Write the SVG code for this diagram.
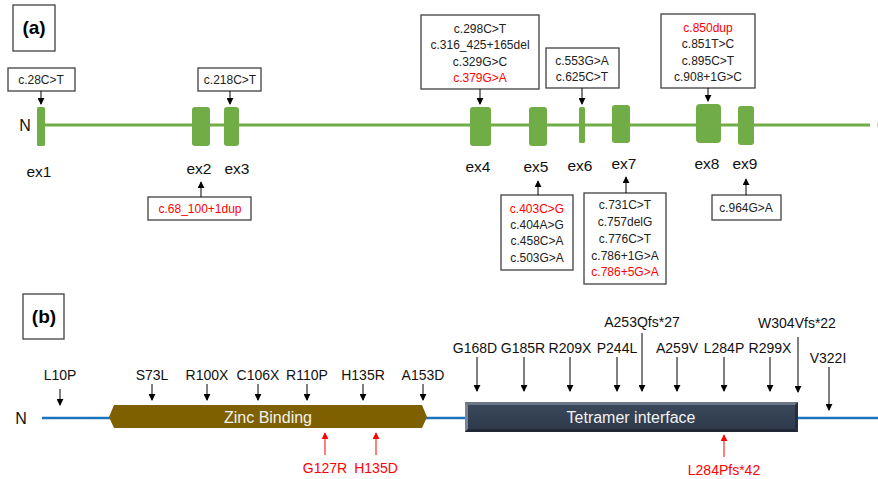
<svg xmlns="http://www.w3.org/2000/svg" width="878" height="479" viewBox="0 0 878 479">
<defs>
<marker id="ah" viewBox="0 0 8 8" refX="7" refY="4" markerWidth="7" markerHeight="7" markerUnits="userSpaceOnUse" orient="auto">
<path d="M0,0 L8,4 L0,8 Z" fill="#000"/>
</marker>
<marker id="ahr" viewBox="0 0 8 8" refX="7" refY="4" markerWidth="7" markerHeight="7" markerUnits="userSpaceOnUse" orient="auto">
<path d="M0,0 L8,4 L0,8 Z" fill="#FF0000"/>
</marker>
<linearGradient id="tg" x1="0" y1="0" x2="0" y2="1">
<stop offset="0" stop-color="#3a475a"/>
<stop offset="1" stop-color="#2e3a4c"/>
</linearGradient>
</defs>
<style>
text{font-family:"Liberation Sans",Arial,sans-serif;}
.box{fill:#fff;stroke:#404040;stroke-width:1.3;}
.bt{font-size:12px;fill:#222;text-anchor:middle;}
.red{fill:#FF0000;}
.ex{fill:#70AD47;}
.exl{font-size:15.5px;fill:#111;text-anchor:middle;}
.arr{stroke:#000;stroke-width:1;fill:none;marker-end:url(#ah);}
.arrr{stroke:#FF0000;stroke-width:1;fill:none;marker-end:url(#ahr);}
.pl{font-size:14px;fill:#111;text-anchor:middle;}
.plr{font-size:14px;fill:#FF0000;text-anchor:middle;}
.ttl{font-size:19px;font-weight:bold;fill:#000;text-anchor:middle;}
</style>

<!-- Panel (a) -->
<g id="label-a">
<rect x="13" y="5" width="42" height="46" fill="#fff" stroke="#404040" stroke-width="1.3"/>
<text class="ttl" x="34" y="34">(a)</text>
</g>

<g id="gene-line">
<line x1="41" y1="125" x2="870" y2="125" stroke="#70AD47" stroke-width="3"/>
<text x="25" y="131" font-size="16" fill="#111" text-anchor="middle">N</text>
<text x="877" y="131" font-size="16" fill="#111">C</text>
</g>

<g id="ex1"><rect class="ex" x="37" y="107" width="8" height="39" rx="1.5"/><text class="exl" x="39" y="177">ex1</text></g>
<g id="ex2"><rect class="ex" x="192" y="107" width="18" height="39" rx="3"/><text class="exl" x="199" y="174">ex2</text></g>
<g id="ex3"><rect class="ex" x="224" y="107" width="15" height="39" rx="3"/><text class="exl" x="237" y="174">ex3</text></g>
<g id="ex4"><rect class="ex" x="470" y="107" width="21" height="39" rx="3"/><text class="exl" x="478" y="172">ex4</text></g>
<g id="ex5"><rect class="ex" x="529" y="107" width="18" height="39" rx="3"/><text class="exl" x="536" y="172">ex5</text></g>
<g id="ex6"><rect class="ex" x="579" y="107" width="6" height="36" rx="1.5"/><text class="exl" x="580" y="171">ex6</text></g>
<g id="ex7"><rect class="ex" x="612" y="105" width="18" height="38" rx="3"/><text class="exl" x="624" y="169">ex7</text></g>
<g id="ex8"><rect class="ex" x="696" y="104" width="25" height="39" rx="4"/><text class="exl" x="707" y="169">ex8</text></g>
<g id="ex9"><rect class="ex" x="738" y="106" width="16" height="39" rx="3"/><text class="exl" x="745" y="169">ex9</text></g>

<g id="box-ex1"><rect class="box" x="8" y="68" width="67" height="23"/><text class="bt" x="41" y="84">c.28C&gt;T</text></g>
<g id="box-ex3"><rect class="box" x="198" y="68" width="63" height="23"/><text class="bt" x="230" y="84">c.218C&gt;T</text></g>
<g id="box-ex2"><rect class="box" x="148" y="197" width="103" height="23"/><text class="bt red" x="200" y="213">c.68_100+1dup</text></g>
<g id="box-ex4"><rect class="box" x="421" y="15" width="118" height="74"/>
<text class="bt" x="480" y="33">c.298C&gt;T</text>
<text class="bt" x="480" y="49">c.316_425+165del</text>
<text class="bt" x="480" y="66">c.329G&gt;C</text>
<text class="bt red" x="480" y="82">c.379G&gt;A</text></g>
<g id="box-ex6"><rect class="box" x="546" y="48" width="73" height="40"/>
<text class="bt" x="582" y="65">c.553G&gt;A</text>
<text class="bt" x="582" y="81">c.625C&gt;T</text></g>
<g id="box-ex8"><rect class="box" x="661" y="14" width="94" height="74"/>
<text class="bt red" x="708" y="32">c.850dup</text>
<text class="bt" x="708" y="48">c.851T&gt;C</text>
<text class="bt" x="708" y="65">c.895C&gt;T</text>
<text class="bt" x="708" y="81">c.908+1G&gt;C</text></g>
<g id="box-ex5"><rect class="box" x="501" y="195" width="72" height="75"/>
<text class="bt red" x="537" y="213">c.403C&gt;G</text>
<text class="bt" x="537" y="229">c.404A&gt;G</text>
<text class="bt" x="537" y="245">c.458C&gt;A</text>
<text class="bt" x="537" y="262">c.503G&gt;A</text></g>
<g id="box-ex7"><rect class="box" x="584" y="193" width="82" height="91"/>
<text class="bt" x="625" y="209">c.731C&gt;T</text>
<text class="bt" x="625" y="226">c.757delG</text>
<text class="bt" x="625" y="243">c.776C&gt;T</text>
<text class="bt" x="625" y="260">c.786+1G&gt;A</text>
<text class="bt red" x="625" y="276">c.786+5G&gt;A</text></g>
<g id="box-ex9"><rect class="box" x="712" y="195" width="69" height="25"/><text class="bt" x="746" y="212">c.964G&gt;A</text></g>

<g id="connectors-a">
<line class="arr" x1="41" y1="91" x2="41" y2="104"/>
<line class="arr" x1="230" y1="91" x2="230" y2="104"/>
<line class="arr" x1="201" y1="197" x2="201" y2="182"/>
<line class="arr" x1="480" y1="89" x2="480" y2="104"/>
<line class="arr" x1="582" y1="88" x2="582" y2="104"/>
<line class="arr" x1="708" y1="88" x2="708" y2="101"/>
<line class="arr" x1="538" y1="195" x2="538" y2="181"/>
<line class="arr" x1="626" y1="193" x2="626" y2="177"/>
<line class="arr" x1="746" y1="195" x2="746" y2="179"/>
</g>

<!-- Panel (b) -->
<g id="label-b">
<rect x="23" y="294" width="41" height="45" fill="#fff" stroke="#404040" stroke-width="1.3"/>
<text class="ttl" x="44" y="323">(b)</text>
</g>

<g id="protein-line">
<line x1="42" y1="418" x2="878" y2="418" stroke="#1E73BE" stroke-width="2.5"/>
<text x="21" y="424" font-size="16" fill="#111" text-anchor="middle">N</text>
</g>

<g id="zinc-binding">
<polygon points="109,417 114,405 422,405 427,417 422,428 114,428" fill="#7F6000"/>
<text x="268" y="423" font-size="16" fill="#F2F2F2" text-anchor="middle">Zinc Binding</text>
</g>

<g id="tetramer-interface">
<rect x="465" y="402" width="333" height="30" fill="#4a5568"/>
<polygon points="465,402 798,402 795,405 468,405" fill="#6b7585"/>
<polygon points="465,402 468,405 468,429 465,432" fill="#7a8494"/>
<polygon points="798,402 798,432 795,429 795,405" fill="#252e3b"/>
<polygon points="465,432 798,432 795,429 468,429" fill="#202836"/>
<rect x="468" y="405" width="327" height="24" fill="url(#tg)"/>
<text x="631" y="423" font-size="16" fill="#F2F2F2" text-anchor="middle">Tetramer interface</text>
</g>

<g id="mutation-labels">
<text class="pl" x="60" y="380">L10P</text>
<text class="pl" x="152" y="380">S73L</text>
<text class="pl" x="207" y="380">R100X</text>
<text class="pl" x="258" y="380">C106X</text>
<text class="pl" x="307" y="380">R110P</text>
<text class="pl" x="363" y="380">H135R</text>
<text class="pl" x="423" y="380">A153D</text>
<text class="pl" x="475" y="353">G168D</text>
<text class="pl" x="523" y="353">G185R</text>
<text class="pl" x="570" y="353">R209X</text>
<text class="pl" x="617" y="353">P244L</text>
<text class="pl" x="642" y="327">A253Qfs*27</text>
<text class="pl" x="677" y="353">A259V</text>
<text class="pl" x="724" y="353">L284P</text>
<text class="pl" x="770" y="353">R299X</text>
<text class="pl" x="797" y="328">W304Vfs*22</text>
<text class="pl" x="828" y="363">V322I</text>
<text class="plr" x="325" y="473">G127R</text>
<text class="plr" x="376" y="473">H135D</text>
<text class="plr" x="724" y="475">L284Pfs*42</text>
</g>

<g id="connectors-b">
<line class="arr" x1="60" y1="389" x2="60" y2="405"/>
<line class="arr" x1="152" y1="384" x2="152" y2="400"/>
<line class="arr" x1="207" y1="384" x2="207" y2="400"/>
<line class="arr" x1="258" y1="384" x2="258" y2="400"/>
<line class="arr" x1="307" y1="384" x2="307" y2="400"/>
<line class="arr" x1="363" y1="384" x2="363" y2="400"/>
<line class="arr" x1="423" y1="384" x2="423" y2="400"/>
<line class="arr" x1="477" y1="357" x2="477" y2="391"/>
<line class="arr" x1="524" y1="357" x2="524" y2="391"/>
<line class="arr" x1="570" y1="357" x2="570" y2="391"/>
<line class="arr" x1="617" y1="357" x2="617" y2="391"/>
<line class="arr" x1="642" y1="333" x2="642" y2="391"/>
<line class="arr" x1="677" y1="357" x2="677" y2="391"/>
<line class="arr" x1="724" y1="357" x2="724" y2="391"/>
<line class="arr" x1="770" y1="357" x2="770" y2="391"/>
<line class="arr" x1="798" y1="337" x2="798" y2="392"/>
<line class="arr" x1="829" y1="367" x2="829" y2="410"/>
<line class="arrr" x1="325" y1="455" x2="325" y2="433"/>
<line class="arrr" x1="376" y1="455" x2="376" y2="433"/>
<line class="arrr" x1="724" y1="457" x2="724" y2="435"/>
</g>
</svg>
